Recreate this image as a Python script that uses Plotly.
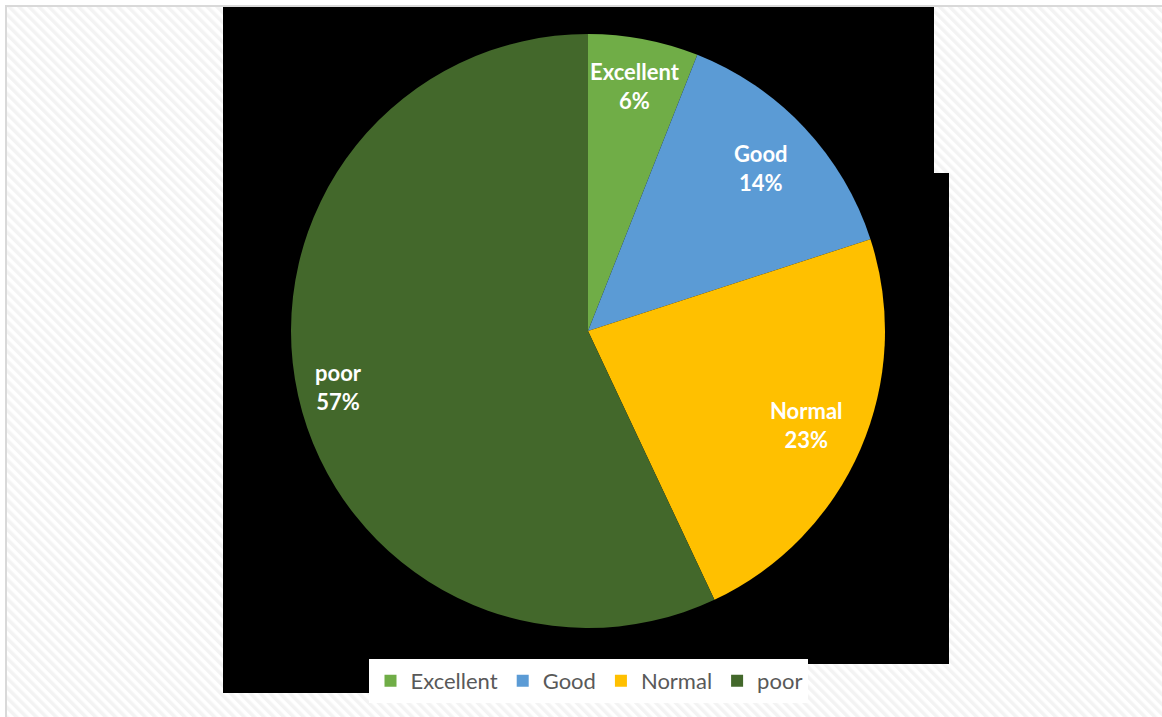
import base64
import math
import plotly.graph_objects as go

# ---- data ----
categories = ["Excellent", "Good", "Normal", "poor"]
shares = [6, 14, 23, 57]
pct_labels = ["6%", "14%", "23%", "57%"]
colors = ["#70AD47", "#5B9BD5", "#FFC000", "#43682B"]

# ---- layout constants (pixels) ----
W, H = 1162, 717
CX, CY, R = 588, 331, 297
label_radius_frac = [0.84, 0.80, 0.80, 0.86]

def px_x(x):
    return x / W

def px_y(y):
    return 1 - y / H

fig = go.Figure()
fig.add_trace(go.Pie(
    labels=categories,
    values=shares,
    marker=dict(colors=colors, line=dict(width=0)),
    sort=False,
    direction="clockwise",
    rotation=0,
    textinfo="none",
    hoverinfo="label+percent",
    domain=dict(x=[px_x(CX - R), px_x(CX + R)], y=[px_y(CY + R), px_y(CY - R)]),
))

# data labels placed along each slice's mid angle
annotations = []
total = sum(shares)
cum = 0
for cat, v, pl, frac in zip(categories, shares, pct_labels, label_radius_frac):
    mid = (cum + v / 2) / total * 2 * math.pi
    cum += v
    lx = CX + frac * R * math.sin(mid)
    ly = CY - frac * R * math.cos(mid)
    annotations.append(dict(
        x=px_x(lx), y=px_y(ly), xref="paper", yref="paper",
        text=f"<b>{cat}<br>{pl}</b>", showarrow=False,
        font=dict(family="Lato", size=22, color="white"),
        align="center", xanchor="center", yanchor="middle",
    ))

# hatched background
svg = (
    f"<svg xmlns='http://www.w3.org/2000/svg' width='{W}' height='{H}'>"
    "<defs><pattern id='p' width='7' height='7' patternUnits='userSpaceOnUse' "
    "patternTransform='rotate(-45)'><rect width='3.5' height='7' fill='#F3F3F3'/></pattern></defs>"
    "<rect width='100%' height='100%' fill='white'/>"
    "<rect width='100%' height='100%' fill='url(#p)'/></svg>"
)
src = "data:image/svg+xml;base64," + base64.b64encode(svg.encode()).decode()

def rect(x0, y0, x1, y1, color):
    return dict(type="rect", xref="paper", yref="paper",
                x0=px_x(x0), x1=px_x(x1), y0=px_y(y1), y1=px_y(y0),
                fillcolor=color, line=dict(width=0), layer="below")

shapes = [
    rect(0, 0, 5, H, "white"),
    rect(0, 0, W, 5, "white"),
    rect(223, 6, 934, 173, "black"),
    rect(223, 173, 949, 664, "black"),
    rect(223, 664, 369, 693, "black"),
    rect(369, 659, 808, 703, "white"),
    dict(type="line", xref="paper", yref="paper", x0=px_x(5), x1=1, y0=px_y(6), y1=px_y(6),
         line=dict(color="#D9D9D9", width=2), layer="below"),
    dict(type="line", xref="paper", yref="paper", x0=px_x(6), x1=px_x(6), y0=0, y1=px_y(5),
         line=dict(color="#D9D9D9", width=2), layer="below"),
]

fig.update_layout(
    width=W, height=H,
    margin=dict(l=0, r=0, t=0, b=0),
    paper_bgcolor="white",
    images=[dict(source=src, xref="paper", yref="paper", x=0, y=1, sizex=1, sizey=1,
                 sizing="stretch", layer="below", xanchor="left", yanchor="top")],
    shapes=shapes,
    annotations=annotations,
    showlegend=True,
    legend=dict(orientation="h", x=px_x(589), xanchor="center", y=px_y(681), yanchor="middle",
                bgcolor="rgba(0,0,0,0)", font=dict(family="Lato", size=22, color="#595959"),
                traceorder="normal", itemsizing="constant"),
)

fig.write_html("out.html", config={"displayModeBar": False},
               post_script="document.body.style.margin='0';document.body.style.overflow='hidden';")
